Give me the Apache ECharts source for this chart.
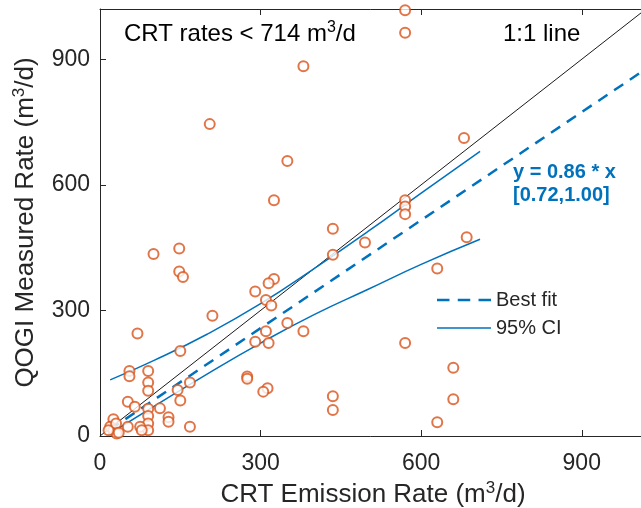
<!DOCTYPE html>
<html>
<head>
<meta charset="utf-8">
<script src="https://cdn.jsdelivr.net/npm/echarts@6/dist/echarts.min.js"></script>
<style>
html,body{margin:0;padding:0;background:#fff;}
#chart{width:641px;height:508px;}
</style>
</head>
<body>
<div id="chart"></div>
<script>
// ---- data ----
var rateX = [570,570,380,205,350,325,100,148,148,155,680,685,570,570,570,435,435,495,325,315,290,310,320,210,70,150,630,380,350,310,315,290,570,660,660,435,435,630,275,275,313,305,55,55,90,90,90,168,145,150,52,65,112,128,128,90,90,90,90,75,78,168,52,25,19,25,31,16,30,35];
var rateY = [1017,963,883,745,657,563,435,448,393,380,712,475,563,548,530,495,433,462,375,365,345,325,312,287,245,203,400,250,270,250,222,225,222,163,88,95,62,33,142,137,114,106,155,143,155,128,108,128,110,85,82,70,66,45,34,65,48,30,14,22,14,22,22,40,22,14,6,14,30,8];
var oneX = [0, 1020];
var oneY = [0, 1020];
var fitX = [18, 1020];
var fitY = [15, 877];
var ciUpX = [19, 100, 200, 300, 400, 500, 600, 710];
var ciUpY = [134, 180, 243, 316, 400, 488, 580, 680];
var ciLoX = [15, 100, 200, 300, 400, 500, 600, 710];
var ciLoY = [3, 70, 148, 222, 290, 350, 410, 470];
var xTicks = [0, 300, 600, 900];
var yTicks = [0, 300, 600, 900];
var legendNames = ['Best fit', '95% CI'];
var axisMax = 1020;

function pairs(xs, ys){ return xs.map(function(v,i){ return [v, ys[i]]; }); }

var FONT = 'Liberation Sans, Arial, sans-serif';
var TXT = '#262626';
var BLUE = '#0072BD';
var supTitle = {sup: {fontFamily: FONT, fontSize: 17, color: TXT, verticalAlign: 'top'}};

var chart = echarts.init(document.getElementById('chart'), null, {renderer:'canvas'});
var option = {
  animation: false,
  backgroundColor: '#fff',
  grid: {left: 100, right: -5, top: 9, bottom: 72, containLabel: false, outerBoundsMode: 'none'},
  xAxis: [{
    type: 'value', min: 0, max: axisMax, position: 'bottom',
    name: 'CRT Emission Rate (m{sup|3}/d)', nameLocation: 'middle', nameGap: 44,
    nameTextStyle: {fontFamily: FONT, fontSize: 26, lineHeight: 30, color: TXT, rich: supTitle},
    axisLine: {show: true, lineStyle: {color: TXT, width: 1}},
    axisTick: {show: true, inside: true, length: 6, customValues: xTicks, lineStyle: {color: TXT}},
    axisLabel: {show: true, customValues: xTicks, margin: 16, fontFamily: FONT, fontSize: 23, color: TXT},
    splitLine: {show: false}
  }, {
    type: 'value', min: 0, max: axisMax, position: 'top',
    axisLine: {show: true, onZero: false, lineStyle: {color: TXT, width: 1}},
    axisTick: {show: true, inside: true, length: 6, customValues: xTicks, lineStyle: {color: TXT}},
    axisLabel: {show: false},
    splitLine: {show: false}
  }],
  yAxis: [{
    type: 'value', min: 0, max: axisMax, position: 'left',
    name: 'QOGI Measured Rate (m{sup|3}/d)', nameLocation: 'middle', nameGap: 56, nameRotate: 90,
    nameTextStyle: {fontFamily: FONT, fontSize: 26, lineHeight: 30, color: TXT, rich: supTitle},
    axisLine: {show: true, lineStyle: {color: TXT, width: 1}},
    axisTick: {show: true, inside: true, length: 6, customValues: yTicks, lineStyle: {color: TXT}},
    axisLabel: {show: true, customValues: yTicks, margin: 10, fontFamily: FONT, fontSize: 23, color: TXT},
    splitLine: {show: false}
  }, {
    type: 'value', min: 0, max: axisMax, position: 'right',
    axisLine: {show: true, onZero: false, lineStyle: {color: TXT, width: 1}},
    axisTick: {show: false}, axisLabel: {show: false}, splitLine: {show: false}
  }],
  legend: {
    orient: 'vertical', left: 432, top: 285, itemWidth: 54, itemHeight: 20, itemGap: 8, itemTextGap: 8,
    textStyle: {fontFamily: FONT, fontSize: 20, color: TXT},
    data: [
      {name: legendNames[0], icon: 'path://M0,0H12V2.6H0Z M20,0H32V2.6H20Z M40,0H52V2.6H40Z'},
      {name: legendNames[1], icon: 'path://M0,0H52V1.6H0Z'}
    ]
  },
  series: [
    {
      name: '1:1 line', type: 'line', data: pairs(oneX, oneY), symbol: 'none',
      lineStyle: {color: '#1a1a1a', width: 1}, z: 2, silent: true
    },
    {
      name: legendNames[0], type: 'line', data: pairs(fitX, fitY), symbol: 'none', color: BLUE,
      lineStyle: {color: BLUE, width: 2.5, type: [11, 8]}, z: 3
    },
    {
      name: legendNames[1], type: 'line', data: pairs(ciUpX, ciUpY), symbol: 'none', smooth: true, color: BLUE,
      lineStyle: {color: BLUE, width: 1.5}, z: 3
    },
    {
      name: legendNames[1], type: 'line', data: pairs(ciLoX, ciLoY), symbol: 'none', smooth: true, color: BLUE,
      lineStyle: {color: BLUE, width: 1.5}, z: 3
    },
    {
      name: 'rates', type: 'scatter', data: pairs(rateX, rateY), symbol: 'emptyCircle', symbolSize: 10,
      itemStyle: {color: '#D95319', borderColor: '#D95319', borderWidth: 1.5}, z: 4
    }
  ],
  graphic: [
    {type: 'text', left: 124, top: 20, style: {text: 'CRT rates < 714 m{sup|3}/d', font: '24px ' + FONT, lineHeight: 28, fill: '#000',
      rich: {sup: {font: '16px ' + FONT, fill: '#000', verticalAlign: 'top'}}}},
    {type: 'text', left: 503, top: 22, style: {text: '1:1 line', font: '24px ' + FONT, fill: '#000'}},
    {type: 'text', left: 513, top: 162, style: {text: 'y = 0.86 * x', font: 'bold 20px ' + FONT, fill: BLUE}},
    {type: 'text', left: 513, top: 185, style: {text: '[0.72,1.00]', font: 'bold 20px ' + FONT, fill: BLUE}}
  ]
};
chart.setOption(option);
</script>
</body>
</html>
